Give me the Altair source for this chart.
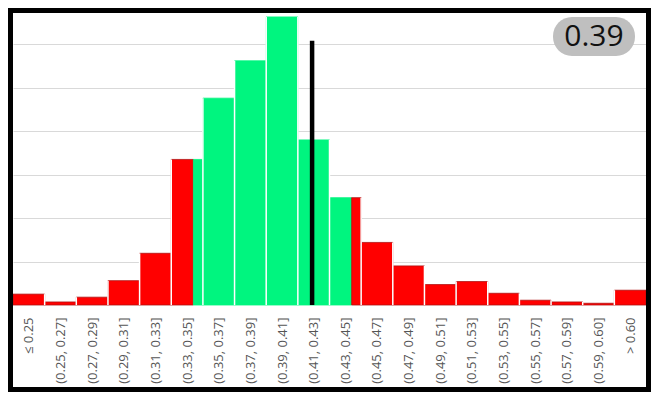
import json
import altair as alt
import pandas as pd

# ---- data ----
labels = ["≤ 0.25", "(0.25, 0.27]", "(0.27, 0.29]", "(0.29, 0.31]", "(0.31, 0.33]",
          "(0.33, 0.35]", "(0.35, 0.37]", "(0.37, 0.39]", "(0.39, 0.41]", "(0.41, 0.43]",
          "(0.43, 0.45]", "(0.45, 0.47]", "(0.47, 0.49]", "(0.49, 0.51]", "(0.51, 0.53]",
          "(0.53, 0.55]", "(0.55, 0.57]", "(0.57, 0.59]", "(0.59, 0.60]", "> 0.60"]
heights = [2.5, 0.7, 1.8, 5.6, 11.9, 33.5, 47.6, 56.2, 66.3, 38.0,
           24.7, 14.4, 9.0, 4.7, 5.4, 2.7, 1.1, 0.7, 0.4, 3.4]
green_low = 0.344
green_high = 0.444
marker_value = 0.419
marker_top = 60.8
badge_text = "0.39"
grid_values = [10, 20, 30, 40, 50, 60]

RED = "#ff0000"
DARKRED = "#b01010"
GREEN = "#00f57f"


def to_idx(v):
    return 1 + (v - 0.25) / 0.02


lo, hi = to_idx(green_low), to_idx(green_high)
segs = []
for i, h in enumerate(heights):
    a, b = i, i + 1
    cuts = sorted(set([a, b] + [c for c in (lo, hi) if a < c < b]))
    for s, e in zip(cuts[:-1], cuts[1:]):
        mid = (s + e) / 2
        segs.append(dict(x=s, x2=e, y=h, c="in" if lo <= mid <= hi else "out"))
seg_df = pd.DataFrame(segs)
sep_df = pd.DataFrame(dict(x=list(range(1, 20)),
                           y=[max(heights[i - 1], heights[i]) for i in range(1, 20)]))
rule_df = pd.DataFrame(dict(x=[to_idx(marker_value)], y=[0], y2=[marker_top]))

W, H = 633, 292

xs = alt.Scale(domain=[0, 20], nice=False, zero=False)
ys = alt.Scale(domain=[0, 67.2], nice=False, zero=True)

label_expr = json.dumps(labels, ensure_ascii=False) + "[floor(datum.value)]"
x_axis = alt.Axis(values=[i + 0.5 for i in range(20)], labelExpr=label_expr,
                  labelAngle=270, labelAlign="right", labelBaseline="middle",
                  labelPadding=12, labelFontSize=13, labelColor="#555555",
                  labelFont="Open Sans", domain=False, ticks=False, grid=False,
                  title=None, labelOverlap=False, labelFlush=False, labelBound=False)
y_axis = alt.Axis(values=grid_values, grid=True, gridColor="#d9d9d9", gridWidth=1,
                  labels=False, ticks=False, domain=False, title=None)

segments = alt.Chart(seg_df).mark_rect(strokeWidth=0.8).encode(
    x=alt.X("x:Q", scale=xs, axis=x_axis),
    x2="x2:Q",
    y=alt.Y("y:Q", scale=ys, axis=y_axis),
    y2=alt.datum(0),
    color=alt.Color("c:N", scale=alt.Scale(domain=["out", "in"], range=[RED, GREEN]), legend=None),
    stroke=alt.Stroke("c:N", scale=alt.Scale(domain=["out", "in"], range=[DARKRED, GREEN]), legend=None),
)

separators = alt.Chart(sep_df).mark_rule(color="white", strokeWidth=1.5).encode(
    x=alt.X("x:Q", scale=xs, axis=x_axis),
    y=alt.Y("y:Q", scale=ys, axis=y_axis), y2=alt.datum(0),
)

marker = alt.Chart(rule_df).mark_rule(color="black", strokeWidth=4.5).encode(
    x=alt.X("x:Q", scale=xs, axis=x_axis),
    y=alt.Y("y:Q", scale=ys, axis=y_axis), y2="y2:Q",
)

one = alt.Data(values=[{}])
badge = alt.Chart(one).mark_rect(fill="#bfbfbf", cornerRadius=19).encode(
    x=alt.value(540), x2=alt.value(622), y=alt.value(4), y2=alt.value(43),
)
badge_label = alt.Chart(one).mark_text(text=badge_text, font="Open Sans", fontSize=30,
                                       color="#111111", align="center", baseline="middle").encode(
    x=alt.value(581), y=alt.value(24),
)
frame = alt.Chart(one).mark_rect(filled=False, stroke="black", strokeWidth=5).encode(
    x=alt.value(-2.5), x2=alt.value(W + 2.5), y=alt.value(-2.5), y2=alt.value(376.5),
)

chart = alt.layer(segments, separators, marker, badge, badge_label, frame).properties(
    width=W, height=H,
    autosize=alt.AutoSizeParams(type="none"),
    padding={"left": 5, "top": 5, "right": 5, "bottom": 87},
    background="white",
).configure_view(stroke=None).configure_axis(labelOverlap=False)

chart.save("out.html", embed_options={"renderer": "svg", "actions": False})
